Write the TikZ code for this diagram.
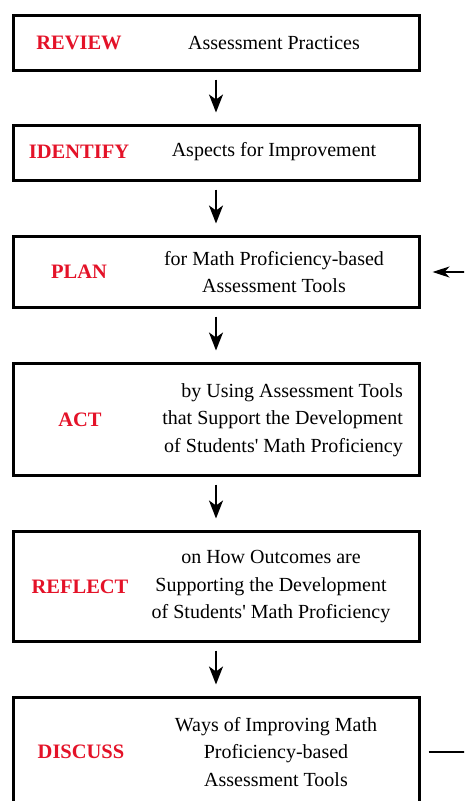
\documentclass[tikz,border=0pt]{standalone}
\usepackage{fontspec}
\setmainfont{Liberation Serif}
\usetikzlibrary{arrows.meta}
\definecolor{lblred}{RGB}{228,18,40}
\begin{document}
\begin{tikzpicture}[x=1pt,y=-1pt,
  box/.style={draw=black,line width=3pt,minimum width=406pt,inner sep=0pt},
  lbl/.style={text=lblred,font=\fontsize{20.5}{24}\selectfont\bfseries,inner sep=0pt},
  txt/.style={font=\fontsize{20}{27.5}\selectfont,align=center,inner sep=0pt},
  flow/.style={line width=2.2pt,-{Stealth[length=18pt,width=14pt,inset=5pt]},shorten <=8pt,shorten >=11pt},
  loop/.style={line width=2pt,-{Stealth[length=17pt,width=11pt,inset=5pt]}}]
\useasboundingbox (0,0) rectangle (464,801);
\clip (0,0) rectangle (464,801);
\fill[white] (0,0) rectangle (464,801);
\node[box,minimum height=55pt] (b1) at (216,42.5) {};
\node[box,minimum height=55pt] (b2) at (216,152.5) {};
\node[box,minimum height=71pt] (b3) at (216,271.5) {};
\node[box,minimum height=112pt] (b4) at (216,419) {};
\node[box,minimum height=110pt] (b5) at (216,586) {};
\node[box,minimum height=112pt] (b6) at (216,753) {};
\node[lbl] (l1) at (79,43) {REVIEW};
\node[lbl] (l2) at (79,152) {IDENTIFY};
\node[lbl] (l3) at (79,272) {PLAN};
\node[lbl] (l4) at (80,420) {ACT};
\node[lbl] (l5) at (80,587) {REFLECT};
\node[lbl] (l6) at (81,752) {DISCUSS};
\node[txt] (t1) at (274,43) {Assessment Practices};
\node[txt] (t2) at (274,152) {Aspects for Improvement};
\node[txt] (t3) at (274,272) {for Math Proficiency-based\\Assessment Tools};
\node[txt,align=right,anchor=east] (t4) at (403,420) {by Using Assessment Tools\\that Support the Development\\of Students\textquotesingle{} Math Proficiency};
\node[txt] (t5) at (271,587) {on How Outcomes are\\Supporting the Development\\of Students\textquotesingle{} Math Proficiency};
\node[txt] (t6) at (276,752) {Ways of Improving Math\\Proficiency-based\\Assessment Tools};
\draw[flow] (b1.south) -- (b2.north);
\draw[flow] (b2.south) -- (b3.north);
\draw[flow] (b3.south) -- (b4.north);
\draw[flow] (b4.south) -- (b5.north);
\draw[flow] (b5.south) -- (b6.north);
\coordinate (lb) at (476,752);
\coordinate (lt) at (476,272);
\draw[loop,shorten <=8pt,shorten >=12pt] (b6.east |- lb) -- (lb) -- (lt) -- (b3.east |- lt);
\end{tikzpicture}
\end{document}
